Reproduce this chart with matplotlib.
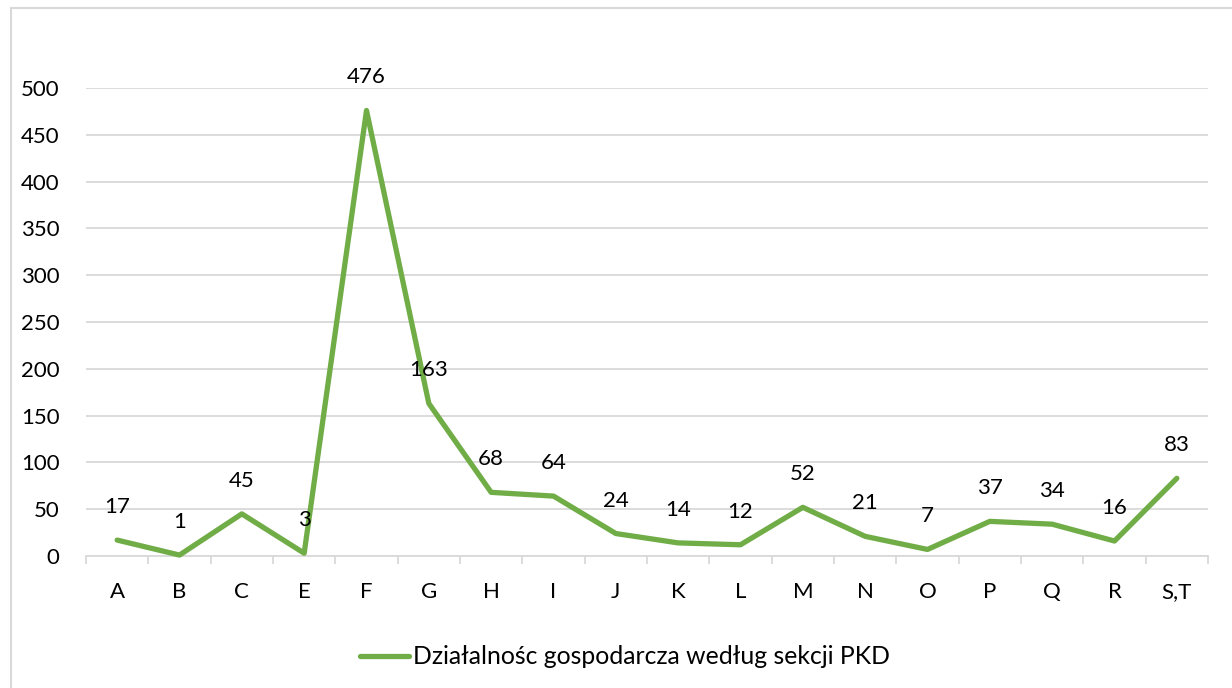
import matplotlib
matplotlib.use("Agg")
import matplotlib.pyplot as plt
from matplotlib.lines import Line2D
import numpy as np

categories = ["A", "B", "C", "E", "F", "G", "H", "I", "J", "K", "L", "M", "N", "O", "P", "Q", "R", "S,T"]
values = [17, 1, 45, 3, 476, 163, 68, 64, 24, 14, 12, 52, 21, 7, 37, 34, 16, 83]
series_name = "Działalnośc gospodarcza według sekcji PKD"
y_ticks = [0, 50, 100, 150, 200, 250, 300, 350, 400, 450, 500]

plt.rcParams['font.family'] = ['Lato', 'DejaVu Sans']
W, H = 1232, 688
fig = plt.figure(figsize=(W / 100, H / 100), dpi=100)
fig.patch.set_facecolor("white")

# outer chart border (left and top visible)
fig.add_artist(Line2D([10.5 / W, 10.5 / W], [0, 1 - 8 / H], transform=fig.transFigure, color="#d9d9d9", lw=1.5))
fig.add_artist(Line2D([10.5 / W, 1], [1 - 8 / H, 1 - 8 / H], transform=fig.transFigure, color="#d9d9d9", lw=1.5))

left, right = 86 / W, 1208 / W
bottom, top = 1 - 556 / H, 1 - 88 / H
ax = fig.add_axes([left, bottom, right - left, top - bottom])

x = np.arange(len(categories))
green = "#70AD47"
ax.plot(x, values, color=green, lw=3.8, solid_joinstyle="round", solid_capstyle="round",
        label=series_name, clip_on=False, zorder=3)

for xi, v in zip(x, values):
    ax.annotate(str(v), (xi, v), xytext=(0, 33), textcoords="offset pixels",
                ha="center", va="center", fontsize=16, color="#000000", annotation_clip=False)

ax.set_xlim(-0.5, len(categories) - 0.5)
ax.set_ylim(0, 500)
ax.set_yticks(y_ticks)
ax.set_yticklabels([str(t) for t in y_ticks], fontsize=16)
ax.tick_params(axis="y", length=0, pad=19)
ax.yaxis.grid(True, color="#d9d9d9", lw=1.3)
ax.set_axisbelow(True)

ax.set_xticks(x)
ax.set_xticklabels(categories, fontsize=16)
ax.set_xticks(np.arange(-0.5, len(categories)), minor=True)
ax.tick_params(axis="x", which="major", length=0, pad=19)
ax.tick_params(axis="x", which="minor", length=6, width=1.3, color="#d9d9d9", direction="out")

for s in ["left", "right", "top"]:
    ax.spines[s].set_visible(False)
ax.spines["bottom"].set_color("#d9d9d9")
ax.spines["bottom"].set_linewidth(1.3)

leg = fig.legend(handles=[Line2D([], [], color=green, lw=3.8, solid_capstyle="round")],
                 labels=[series_name], loc="center", bbox_to_anchor=(625 / W, 1 - 657 / H),
                 frameon=False, fontsize=17.8, handlelength=2.0, handletextpad=0.15)

fig.savefig("out.png", dpi=100, facecolor="white")
